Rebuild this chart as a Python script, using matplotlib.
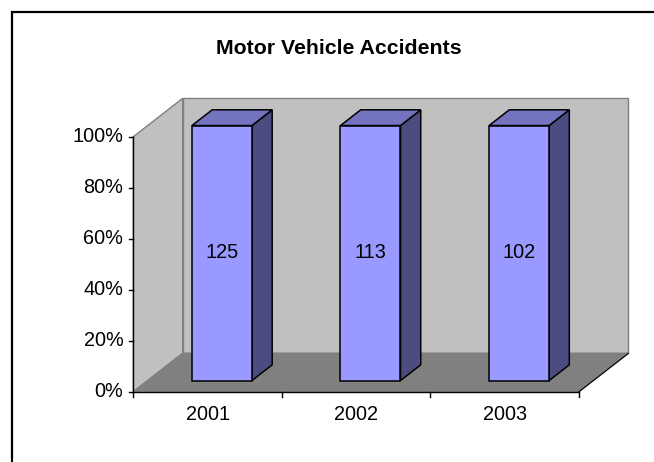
import matplotlib
matplotlib.use("Agg")
import matplotlib.pyplot as plt
from matplotlib.patches import Polygon

# ---- data ----
years = ["2001", "2002", "2003"]
accidents = [125, 113, 102]
pct_ticks = [0, 20, 40, 60, 80, 100]
title = "Motor Vehicle Accidents"

# ---- layout (pixel space, y grows downward) ----
W, H = 654, 462
X0, Y0 = 133.3, 391.7      # front-left corner of the floor
PLOT_W = 445.7             # front axis length
PLOT_H = 255.0             # height of 100 %
DEPTH = (49.4, -38.4)      # offset from front to back wall
BAR_FRAC = 0.404           # bar width relative to category width
BAR_Z0, BAR_Z1 = 0.29, 0.70

plt.rcParams["font.family"] = ["Liberation Sans", "DejaVu Sans"]

fig = plt.figure(figsize=(W / 100, H / 100), dpi=100)
ax = fig.add_axes([0, 0, 1, 1])
ax.set_xlim(0, W)
ax.set_ylim(H, 0)
ax.axis("off")

ncat = len(years)
cat_w = PLOT_W / ncat


def proj(x, frac, z):
    """x along category axis (px from X0), frac = 0..1 value, z = 0..1 depth"""
    return (X0 + x + DEPTH[0] * z, Y0 - frac * PLOT_H + DEPTH[1] * z)


def poly(pts, fc, ec, lw=1.0, zo=1):
    ax.add_patch(Polygon(pts, closed=True, facecolor=fc, edgecolor=ec,
                         linewidth=lw, zorder=zo, joinstyle="miter"))


# chart-area border (only top/left visible)
ax.plot([12, 12, W + 10], [H + 10, 12, 12], color="black", lw=1.6,
        solid_joinstyle="miter", zorder=10)

# walls and floor
poly([proj(0, 0, 1), proj(PLOT_W, 0, 1), proj(PLOT_W, 1, 1), proj(0, 1, 1)],
     "#c0c0c0", "#808080", 1.0)
poly([proj(0, 0, 0), proj(0, 1, 0), proj(0, 1, 1), proj(0, 0, 1)],
     "#c0c0c0", "#808080", 1.0)
poly([proj(0, 0, 0), proj(PLOT_W, 0, 0), proj(PLOT_W, 0, 1), proj(0, 0, 1)],
     "#808080", "#808080", 1.0)
# right floor edge
ax.plot(*zip(proj(PLOT_W, 0, 0), proj(PLOT_W, 0, 1)), color="black", lw=0.8, zorder=2)

# 100 % stacked: single series -> share per category
totals = accidents  # one series, each column sums to itself
for i, (yr, val) in enumerate(zip(years, accidents)):
    share = val / totals[i]
    xl = (i + 0.5) * cat_w - BAR_FRAC * cat_w / 2
    xr = (i + 0.5) * cat_w + BAR_FRAC * cat_w / 2
    front = [proj(xl, 0, BAR_Z0), proj(xr, 0, BAR_Z0), proj(xr, share, BAR_Z0), proj(xl, share, BAR_Z0)]
    side = [proj(xr, 0, BAR_Z0), proj(xr, 0, BAR_Z1), proj(xr, share, BAR_Z1), proj(xr, share, BAR_Z0)]
    top = [proj(xl, share, BAR_Z0), proj(xr, share, BAR_Z0), proj(xr, share, BAR_Z1), proj(xl, share, BAR_Z1)]
    poly(side, "#4c4c80", "black", 1.1, 3)
    poly(top, "#7373bf", "black", 1.1, 3)
    poly(front, "#9999ff", "black", 1.1, 4)
    cx, cy = proj((xl + xr) / 2, share / 2, BAR_Z0)
    ax.text(cx, cy - 1, str(val), ha="center", va="center", fontsize=14.3, zorder=5)

# value axis
ax.plot(*zip(proj(0, 0, 0), proj(0, 1, 0)), color="black", lw=1.0, zorder=6)
for p in pct_ticks:
    x, y = proj(0, p / 100, 0)
    ax.plot([x - 4, x], [y, y], color="black", lw=1.0, zorder=6)
    ax.text(x - 10, y, f"{p}%", ha="right", va="center", fontsize=14.3)

# category axis
ax.plot(*zip(proj(0, 0, 0), proj(PLOT_W, 0, 0)), color="black", lw=1.0, zorder=6)
for i in range(ncat + 1):
    x, y = proj(i * cat_w, 0, 0)
    ax.plot([x, x], [y, y + 5], color="black", lw=1.0, zorder=6)
for i, yr in enumerate(years):
    x, y = proj((i + 0.5) * cat_w, 0, 0)
    ax.text(x, y + 22.5, yr, ha="center", va="center", fontsize=14.3)

ax.text(339, 48, title, ha="center", va="center", fontsize=15.3, fontweight="bold")

fig.savefig("out.png", dpi=100)
